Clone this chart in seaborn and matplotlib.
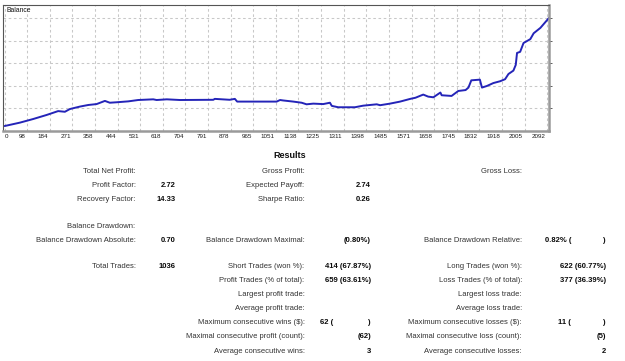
import numpy as np
import pandas as pd
import matplotlib
matplotlib.use("Agg")
import matplotlib.pyplot as plt
from matplotlib.transforms import ScaledTranslation
import seaborn as sns

# ---------------- data ----------------
deals = [0, 59, 110, 162, 206, 232, 251, 290, 322, 354, 386, 405, 431, 476, 514,
         572, 585, 624, 675, 803, 809, 866, 886, 895, 1047, 1060, 1072, 1111, 1143,
         1162, 1188, 1226, 1252, 1259, 1284, 1329, 1348, 1380, 1432, 1445, 1483,
         1522, 1561, 1581, 1611, 1630, 1650, 1677, 1682, 1720, 1746, 1774, 1785,
         1796, 1829, 1837, 1856, 1881, 1907, 1926, 1939, 1958, 1967, 1972, 1984,
         1997, 2023, 2036, 2062, 2095]
balance = [1022, 1037, 1053, 1071, 1088, 1085, 1097, 1108, 1115, 1119, 1133, 1125,
           1127, 1131, 1137, 1140, 1137, 1140, 1137, 1138, 1142, 1138, 1142, 1130,
           1130, 1137, 1135, 1130, 1125, 1118, 1121, 1119, 1125, 1111, 1105, 1105,
           1105, 1112, 1118, 1114, 1121, 1130, 1142, 1147, 1161, 1152, 1149, 1170,
           1158, 1155, 1177, 1181, 1192, 1224, 1227, 1192, 1199, 1212, 1220, 1229,
           1252, 1267, 1292, 1345, 1350, 1389, 1406, 1432, 1456, 1500]

tick_labels = ["0", "98", "184", "271", "358", "444", "531", "618", "704", "791",
               "878", "965", "1051", "1138", "1225", "1311", "1398", "1485", "1571",
               "1658", "1745", "1832", "1918", "2005", "2092"]
grid_step = 87
y_grid = [1100, 1200, 1300, 1400, 1500]

# results table: (label, value) per column, rows by y pixel
col1 = [("Total Net Profit:", ""), ("Profit Factor:", "2.72"), ("Recovery Factor:", "14.33"),
        ("Balance Drawdown:", ""), ("Balance Drawdown Absolute:", "0.70"),
        ("Total Trades:", "1036")]
col1_rows = [170, 184, 198.3, 225, 239.3, 265]

col2 = [("Gross Profit:", ""), ("Expected Payoff:", "2.74"), ("Sharpe Ratio:", "0.26"),
        ("Balance Drawdown Maximal:", "(0.80%)"), ("Short Trades (won %):", "414 (67.87%)"),
        ("Profit Trades (% of total):", "659 (63.61%)"), ("Largest profit trade:", ""),
        ("Average profit trade:", ""), ("Maximum consecutive wins ($):", "62 ("),
        ("Maximal consecutive profit (count):", "(62)"), ("Average consecutive wins:", "3")]
col2_rows = [170, 184, 198.3, 239.3, 265, 279.3, 293.3, 307.3, 321.7, 335.7, 350]

col3 = [("Gross Loss:", ""), ("Balance Drawdown Relative:", "0.82% ("),
        ("Long Trades (won %):", "622 (60.77%)"), ("Loss Trades (% of total):", "377 (36.39%)"),
        ("Largest loss trade:", ""), ("Average loss trade:", ""),
        ("Maximum consecutive losses ($):", "11 ("), ("Maximal consecutive loss (count):", "(5)"),
        ("Average consecutive losses:", "2")]
col3_rows = [170, 239.3, 265, 279.3, 293.3, 307.3, 321.7, 335.7, 350]

# ---------------- figure ----------------
sns.set_style("white")
plt.rcParams["font.family"] = ["Liberation Sans", "DejaVu Sans"]

W, H = 625, 361
fig = plt.figure(figsize=(W / 100, H / 100), dpi=100)
fig.patch.set_facecolor("white")

ax_l, ax_r, ax_t, ax_b = 3.3, 549, 5, 131
ax = fig.add_axes([ax_l / W, 1 - ax_b / H, (ax_r - ax_l) / W, (ax_b - ax_t) / H])

df = pd.DataFrame({"deal": deals, "balance": balance})
sns.lineplot(data=df, x="deal", y="balance", ax=ax, color="#2424b8", linewidth=1.4)

ax.set_xlim(-5, 2095)
ax.set_ylim(1000, 1557)
ax.set_xlabel("")
ax.set_ylabel("")

gx = [k * grid_step for k in range(len(tick_labels))]
ax.set_xticks(gx)
ax.set_xticklabels(tick_labels, fontsize=4.5, color="#1a1a1a")
ax.tick_params(axis="x", length=0, pad=2.2)
for i, lab in enumerate(ax.get_xticklabels()):
    if i == 0:
        lab.set_ha("left")
    else:
        lab.set_ha("right")
        lab.set_transform(lab.get_transform() + ScaledTranslation(-0.015, 0, fig.dpi_scale_trans))

ax.set_yticks(y_grid)
ax.set_yticklabels([])
ax.yaxis.tick_right()
ax.tick_params(axis="y", length=2, width=0.6, color="#444444", direction="out")

ax.grid(True, color="#c8c8c8", linestyle=(0, (2.5, 2.5)), linewidth=0.75)
ax.set_axisbelow(True)

for side in ["top", "left"]:
    ax.spines[side].set_color("#555555")
    ax.spines[side].set_linewidth(0.8)
for side in ["right", "bottom"]:
    ax.spines[side].set_color("#9a9a9a")
    ax.spines[side].set_linewidth(1.8)

ax.text(0.006, 0.955, "Balance", transform=ax.transAxes,
        fontsize=4.9, color="#111111", ha="left", va="center")

# ---------------- results ----------------
FS = 5.5
LAB_C = "#333333"
VAL_C = "#0a0a0a"


def ftext(x, y, s, ha="left", bold=False, color=LAB_C, size=FS):
    fig.text(x / W, 1 - (y + 2.7) / H, s, ha=ha, va="baseline", fontsize=size,
             fontweight="bold" if bold else "normal", color=color)


ftext(289.5, 155, "Results", ha="center", bold=True, color="#111111", size=6.5)

for (lab, val), y in zip(col1, col1_rows):
    ftext(135.5, y, lab, ha="right")
    if val:
        ftext(176, y, val, ha="right", bold=True, color=VAL_C)

for (lab, val), y in zip(col2, col2_rows):
    ftext(304.5, y, lab, ha="right")
    if val.endswith("("):
        ftext(320, y, val, ha="left", bold=True, color=VAL_C)
        ftext(371, y, ")", ha="right", bold=True, color=VAL_C)
    elif val:
        ftext(371, y, val, ha="right", bold=True, color=VAL_C)

for (lab, val), y in zip(col3, col3_rows):
    ftext(522, y, lab, ha="right")
    if val.endswith("("):
        xl = 545 if val.startswith("0.82") else 558.5
        ftext(xl, y, val, ha="left", bold=True, color=VAL_C)
        ftext(606, y, ")", ha="right", bold=True, color=VAL_C)
    elif val:
        ftext(606, y, val, ha="right", bold=True, color=VAL_C)

fig.savefig("out.png", dpi=100, facecolor="white")
